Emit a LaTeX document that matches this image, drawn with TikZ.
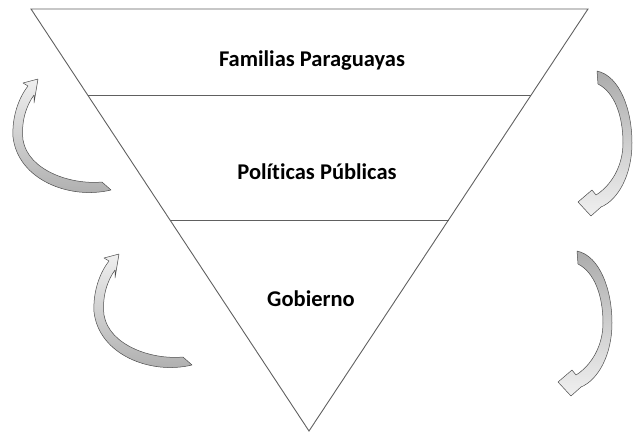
\documentclass[tikz,border=0pt]{standalone}
\usepackage{fontspec}
\setmainfont{Carlito}[Ligatures=NoCommon]
\usetikzlibrary{calc}

\begin{document}
\begin{tikzpicture}[x=1pt,y=-1pt]
    \tikzstyle{every node}=[font=\fontsize{22.5}{26}\selectfont\bfseries]
    \tikzstyle{edge}=[draw=gray!75!black,line width=0.9pt]
    \tikzstyle{turnup}=[draw=gray!60!black,line width=0.5pt,line join=round,top color=gray!12,bottom color=gray!65]
    \tikzstyle{turndown}=[draw=gray!60!black,line width=0.5pt,line join=round,top color=gray!65,bottom color=gray!12]
    \useasboundingbox (0,0) rectangle (633,432);

    % corners of the inverted triangle
    \coordinate (tl) at (31,9);
    \coordinate (tr) at (588,9);
    \coordinate (apex) at (309,431);
    \path[edge] (tl) -- (tr) -- (apex) -- cycle;

    % borders between the levels
    \draw[edge] ($(tl)!0.204!(apex)$) -- ($(tr)!0.204!(apex)$);
    \draw[edge] ($(tl)!0.5!(apex)$) -- ($(tr)!0.5!(apex)$);

    % labels of the levels
    \node (familias) at (312,61) {Familias Paraguayas};
    \node (politicas) at (317,172) {Políticas Públicas};
    \node (gobierno) at (311,299) {Gobierno};

    % curved arrows on the left, going up
    \foreach \dx/\dy in {0/0,81/175}{
      \begin{scope}[shift={(\dx,\dy)}]
        \path[turnup] (111,190) -- (102,182)
          .. controls (70,185) and (28,170) .. (23,140)
          .. controls (21,122) and (26,106) .. (34,95)
          -- (34,103) -- (38,79) -- (23,83) -- (28,86)
          .. controls (17,100) and (12,120) .. (13,137)
          .. controls (18,180) and (70,200) .. (111,190) -- cycle;
      \end{scope}
    }

    % curved arrows on the right, going down
    \foreach \dx/\dy in {0/0,-20/180}{
      \begin{scope}[shift={(\dx,\dy)}]
        \path[turndown] (597,71)
          .. controls (620,76) and (632,110) .. (632,143)
          .. controls (632,175) and (618,200) .. (601,207)
          -- (591,216) -- (578,202) -- (592,190) -- (596,195)
          .. controls (612,185) and (623,165) .. (623,143)
          .. controls (623,115) and (614,92) .. (598,84) -- cycle;
      \end{scope}
    }
\end{tikzpicture}
\end{document}
